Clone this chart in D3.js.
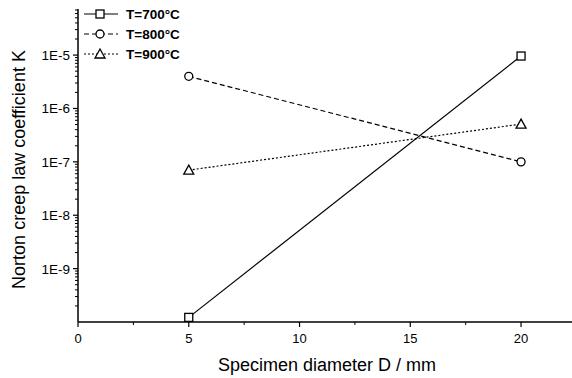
<!DOCTYPE html>
<html>
<head>
<meta charset="utf-8">
<script src="https://cdn.jsdelivr.net/npm/d3@7"></script>
<style>
  body { margin: 0; background: #fff; }
  svg { display: block; font-family: "Liberation Sans", Arial, sans-serif; }
</style>
</head>
<body>
<div id="chart"></div>
<script>
const diameters = [5, 20];
const k700 = [1.22e-10, 9.6e-6];
const k800 = [4.0e-6, 1.0e-7];
const k900 = [7.0e-8, 5.1e-7];
const seriesNames = ['T=700°C', 'T=800°C', 'T=900°C'];
const xTicks = [0, 5, 10, 15, 20];
const yTicks = [1e-9, 1e-8, 1e-7, 1e-6, 1e-5];
const yTickLabels = ['1E-9', '1E-8', '1E-7', '1E-6', '1E-5'];

const width = 572, height = 378;
const plot = { left: 78, right: 572, top: 9, bottom: 322 };

const svg = d3.select('#chart').append('svg')
  .attr('width', width)
  .attr('height', height);

const x = d3.scaleLinear().domain([0, 22.3]).range([plot.left, plot.right]);
const y = d3.scaleLog().domain([1e-10, 7.3e-5]).range([plot.bottom, plot.top]);

// axes lines
svg.append('line').attr('x1', plot.left).attr('x2', plot.right).attr('y1', plot.bottom).attr('y2', plot.bottom)
  .attr('stroke', '#000').attr('stroke-width', 1.5);
svg.append('line').attr('x1', plot.left).attr('x2', plot.left).attr('y1', plot.top).attr('y2', plot.bottom)
  .attr('stroke', '#000').attr('stroke-width', 1.5);

// x ticks
const xMinor = d3.range(2.5, 22.3, 5);
svg.selectAll('.xmaj').data(xTicks).join('line')
  .attr('x1', d => x(d)).attr('x2', d => x(d))
  .attr('y1', plot.bottom).attr('y2', plot.bottom + 5)
  .attr('stroke', '#000').attr('stroke-width', 1.2);
svg.selectAll('.xmin').data(xMinor).join('line')
  .attr('x1', d => x(d)).attr('x2', d => x(d))
  .attr('y1', plot.bottom).attr('y2', plot.bottom + 3)
  .attr('stroke', '#000').attr('stroke-width', 1);
svg.selectAll('.xlab').data(xTicks).join('text')
  .attr('x', d => x(d)).attr('y', plot.bottom + 21)
  .attr('text-anchor', 'middle').attr('font-size', 13)
  .text(d => d);

// y ticks
svg.selectAll('.ymaj').data(yTicks).join('line')
  .attr('x1', plot.left - 5).attr('x2', plot.left)
  .attr('y1', d => y(d)).attr('y2', d => y(d))
  .attr('stroke', '#000').attr('stroke-width', 1.2);
const yMinor = [];
for (let e = -10; e <= -5; e++) {
  for (let m = 2; m <= 9; m++) {
    const v = m * Math.pow(10, e);
    if (v <= 7.3e-5) yMinor.push(v);
  }
}
svg.selectAll('.ymin').data(yMinor).join('line')
  .attr('x1', plot.left - 3).attr('x2', plot.left)
  .attr('y1', d => y(d)).attr('y2', d => y(d))
  .attr('stroke', '#000').attr('stroke-width', 1);
svg.selectAll('.ylab').data(yTicks).join('text')
  .attr('x', plot.left - 8).attr('y', d => y(d) + 5)
  .attr('text-anchor', 'end').attr('font-size', 13.5)
  .text((d, i) => yTickLabels[i]);

// axis titles
svg.append('text')
  .attr('x', (plot.left + plot.right) / 2 + 2).attr('y', 371)
  .attr('text-anchor', 'middle').attr('font-size', 18)
  .text('Specimen diameter D / mm');
svg.append('text')
  .attr('transform', `translate(25, ${(plot.top + plot.bottom) / 2 + 4}) rotate(-90)`)
  .attr('text-anchor', 'middle').attr('font-size', 18)
  .text('Norton creep law coefficient K');

const series = [
  { name: seriesNames[0], values: k700, dash: null, marker: 'square' },
  { name: seriesNames[1], values: k800, dash: '5,3', marker: 'circle' },
  { name: seriesNames[2], values: k900, dash: '2,2', marker: 'triangle' }
];

const line = d3.line().x(d => x(d[0])).y(d => y(d[1]));

function drawMarker(g, type, cx, cy) {
  if (type === 'square') {
    g.append('rect').attr('x', cx - 4).attr('y', cy - 4).attr('width', 8).attr('height', 8)
      .attr('fill', '#fff').attr('stroke', '#000').attr('stroke-width', 1.3);
  } else if (type === 'circle') {
    g.append('circle').attr('cx', cx).attr('cy', cy).attr('r', 4)
      .attr('fill', '#fff').attr('stroke', '#000').attr('stroke-width', 1.3);
  } else {
    g.append('path')
      .attr('d', `M${cx},${cy - 5}L${cx + 5},${cy + 4}L${cx - 5},${cy + 4}Z`)
      .attr('fill', '#fff').attr('stroke', '#000').attr('stroke-width', 1.3);
  }
}

series.forEach(s => {
  const pts = diameters.map((d, i) => [d, s.values[i]]);
  svg.append('path').datum(pts)
    .attr('d', line)
    .attr('fill', 'none').attr('stroke', '#000').attr('stroke-width', 1.2)
    .attr('stroke-dasharray', s.dash);
  const g = svg.append('g');
  pts.forEach(p => drawMarker(g, s.marker, x(p[0]), y(p[1])));
});

// legend
series.forEach((s, i) => {
  const ly = 14 + i * 20;
  const g = svg.append('g');
  g.append('line').attr('x1', 84).attr('x2', 118).attr('y1', ly).attr('y2', ly)
    .attr('stroke', '#000').attr('stroke-width', 1.2)
    .attr('stroke-dasharray', s.dash);
  drawMarker(g, s.marker, 100, ly);
  g.append('text').attr('x', 126).attr('y', ly + 5)
    .attr('font-size', 13.5).attr('font-weight', 'bold')
    .text(s.name);
});
</script>
</body>
</html>
